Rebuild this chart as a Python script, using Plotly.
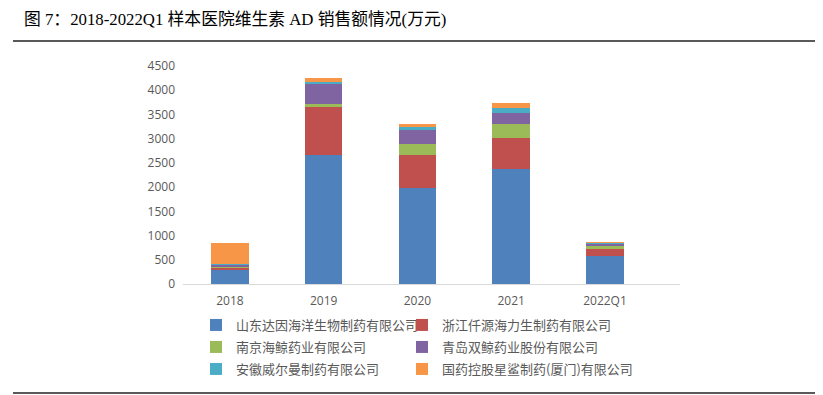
import plotly.graph_objects as go

categories = ["2018", "2019", "2020", "2021", "2022Q1"]
series_names = [
    "山东达因海洋生物制药有限公司",
    "浙江仟源海力生制药有限公司",
    "南京海鲸药业有限公司",
    "青岛双鲸药业股份有限公司",
    "安徽威尔曼制药有限公司",
    "国药控股星鲨制药(厦门)有限公司",
]
shandong = [280, 2660, 1990, 2370, 585]
zhejiang = [70, 1000, 670, 645, 135]
nanjing = [5, 55, 235, 295, 55]
qingdao = [45, 425, 275, 215, 70]
anhui = [5, 30, 90, 115, 15]
guoyao = [435, 75, 40, 90, 7]
y_ticks = [0, 500, 1000, 1500, 2000, 2500, 3000, 3500, 4000, 4500]

series_values = [shandong, zhejiang, nanjing, qingdao, anhui, guoyao]
colors = ["#4F81BD", "#C0504D", "#9BBB59", "#8064A2", "#4BACC6", "#F79646"]

OFF = 8  # page body margin
W, H = 823 - OFF, 395 - OFF
L, R, T, B = 183 - OFF, 680 - OFF, 66 - OFF, 284 - OFF
PW, PH = R - L, B - T

def px(x):
    return (x - OFF - L) / PW

def py(y):
    return (B - (y - OFF)) / PH

# legend slots (page px): column left x, row centre y
leg_slots = [(196, 325), (402, 325), (196, 347), (402, 347), (196, 369), (402, 369)]
leg_font = dict(family="Noto Sans CJK SC", size=13, color="#595959")

fig = go.Figure()
legends = {}
for i, (name, vals, col) in enumerate(zip(series_names, series_values, colors)):
    lid = "legend" if i == 0 else f"legend{i + 1}"
    fig.add_trace(go.Bar(x=categories, y=vals, name=name, marker_color=col,
                         marker_line_width=0, legend=lid))
    lx, ly = leg_slots[i]
    legends[lid] = dict(orientation="h", xref="container", yref="container",
                        x=(lx - OFF) / W, y=1 - (ly - OFF) / H,
                        xanchor="left", yanchor="middle", traceorder="normal",
                        font=leg_font, itemwidth=30,
                        bgcolor="rgba(0,0,0,0)")

fig.update_layout(
    width=W, height=H,
    margin=dict(l=L, r=W - R, t=T, b=H - B, autoexpand=False),
    paper_bgcolor="white", plot_bgcolor="white",
    barmode="stack", bargap=0.6,
    showlegend=True,
    **legends,
    xaxis=dict(range=[-0.5, 4.8], showgrid=False, showline=True,
               linecolor="#D9D9D9", linewidth=1, ticks="", ticklabelstandoff=6,
               tickfont=dict(family="Open Sans", size=12, color="#595959")),
    yaxis=dict(range=[0, 4500], tickvals=y_ticks, showgrid=False,
               zeroline=False, showline=False, ticks="", ticklabelstandoff=7,
               tickfont=dict(family="Open Sans", size=12, color="#595959")),
    annotations=[dict(
        text="图 7：2018-2022Q1 样本医院维生素 AD 销售额情况(万元)",
        xref="paper", yref="paper", x=px(22), y=py(20),
        xanchor="left", yanchor="middle", showarrow=False,
        font=dict(family="Liberation Serif, Noto Sans CJK SC", size=16.8, color="black"))],
    shapes=[
        dict(type="line", xref="paper", yref="paper",
             x0=px(13), x1=px(816), y0=py(41), y1=py(41),
             line=dict(color="#222222", width=1.5)),
        dict(type="line", xref="paper", yref="paper",
             x0=px(13), x1=px(816), y0=py(393), y1=py(393),
             line=dict(color="#222222", width=1.5)),
    ],
)
fig.write_html("out.html")
